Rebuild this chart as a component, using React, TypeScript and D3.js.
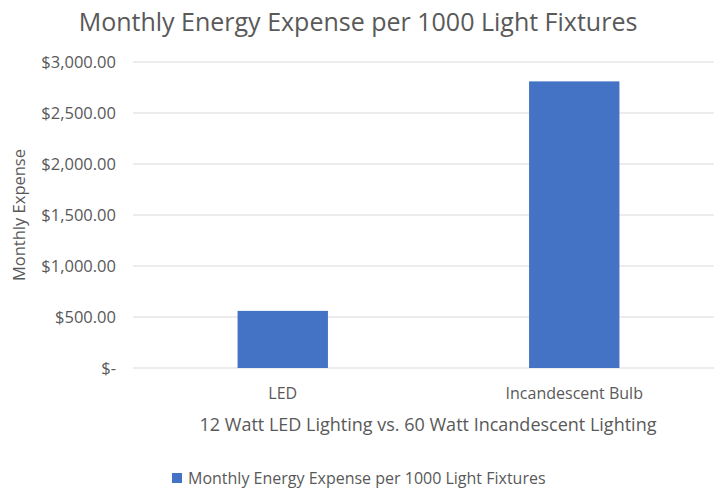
import { useRef, useEffect } from 'react';
import * as d3 from 'd3';

const categories = ['LED', 'Incandescent Bulb'];
const expense = [560, 2810];
const yTicks = [0, 500, 1000, 1500, 2000, 2500, 3000];
const seriesName = 'Monthly Energy Expense per 1000 Light Fixtures';

export default function App() {
  const ref = useRef<SVGSVGElement>(null);

  useEffect(() => {
    const svg = d3.select(ref.current);
    svg.selectAll('*').remove();
    const W = 720, H = 493;
    const m = { top: 62, right: 0, bottom: 125, left: 137 };
    const font = '"Open Sans", "Noto Sans", sans-serif';
    const txt = '#595959';
    const grid = '#d9d9d9';
    const blue = '#4472c4';

    svg.append('rect').attr('width', W).attr('height', H).attr('fill', '#fff');

    const x = d3.scaleBand().domain(categories).range([m.left, W - m.right]).paddingInner(0.69).paddingOuter(0.345);
    const y = d3.scaleLinear().domain([0, 3000]).range([H - m.bottom, m.top]);

    const money = (v: number) => v === 0 ? '$-' : '$' + d3.format(',.2f')(v);

    svg.append('g').selectAll('line').data(yTicks).join('line')
      .attr('x1', m.left - 4).attr('x2', W - 6)
      .attr('y1', d => y(d)).attr('y2', d => y(d))
      .attr('stroke', grid).attr('stroke-width', 1);

    svg.append('g').selectAll('text').data(yTicks).join('text')
      .attr('x', 116).attr('y', d => y(d)).attr('dy', '0.35em')
      .attr('text-anchor', 'end').attr('fill', txt)
      .style('font-family', font).style('font-size', '16.5px')
      .text(money);

    svg.append('g').selectAll('rect').data(expense).join('rect')
      .attr('x', (d, i) => x(categories[i])!)
      .attr('width', x.bandwidth())
      .attr('y', d => y(d))
      .attr('height', d => y(0) - y(d))
      .attr('fill', blue);

    svg.append('g').selectAll('text').data(categories).join('text')
      .attr('x', d => x(d)! + x.bandwidth() / 2).attr('y', 399)
      .attr('text-anchor', 'middle').attr('fill', txt)
      .style('font-family', font).style('font-size', '16px')
      .text(d => d);

    svg.append('text')
      .attr('x', 358).attr('y', 31).attr('text-anchor', 'middle').attr('fill', txt)
      .style('font-family', font).style('font-size', '25px')
      .text('Monthly Energy Expense per 1000 Light Fixtures');

    svg.append('text')
      .attr('transform', `translate(25,${(y(0) + y(3000)) / 2}) rotate(-90)`)
      .attr('text-anchor', 'middle').attr('fill', txt)
      .style('font-family', font).style('font-size', '16.5px')
      .text('Monthly Expense');

    svg.append('text')
      .attr('x', 428).attr('y', 431).attr('text-anchor', 'middle').attr('fill', txt)
      .style('font-family', font).style('font-size', '18px')
      .text('12 Watt LED Lighting vs. 60 Watt Incandescent Lighting');

    const lg = svg.append('g').attr('transform', 'translate(172,473)');
    lg.append('rect').attr('width', 10).attr('height', 10).attr('fill', blue);
    lg.append('text').attr('x', 16).attr('y', 5).attr('dy', '0.35em').attr('fill', txt)
      .style('font-family', font).style('font-size', '16px')
      .text(seriesName);
  }, []);

  return (
    <svg ref={ref} width={720} height={493}
      style={{ position: 'absolute', left: 0, top: 0, display: 'block' }} />
  );
}
